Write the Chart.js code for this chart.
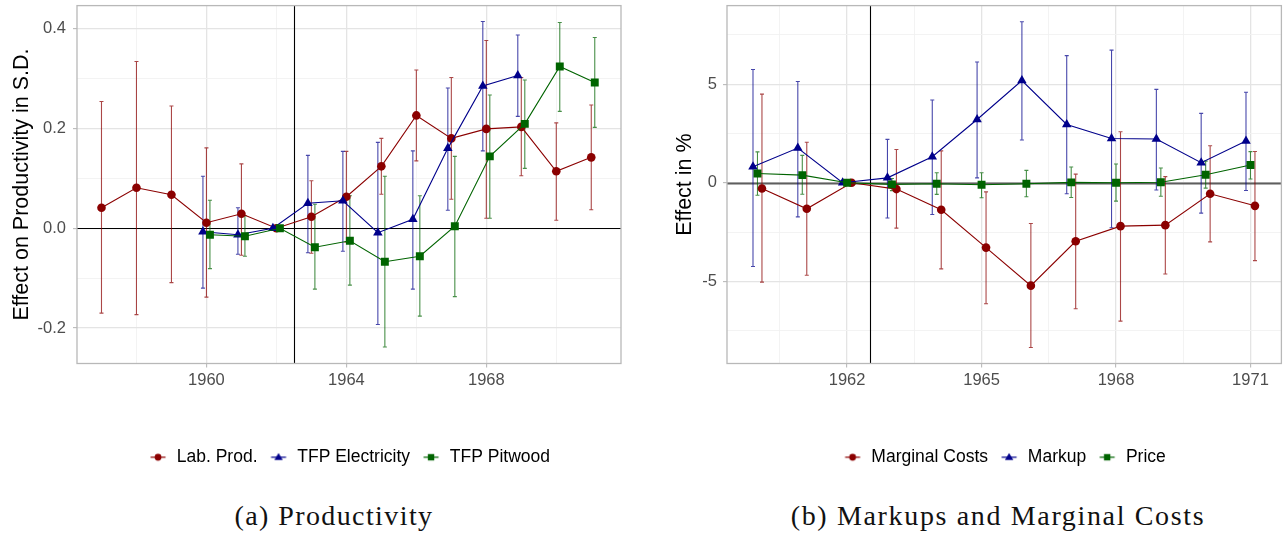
<!DOCTYPE html>
<html>
<head>
<meta charset="utf-8">
<script src="https://cdn.jsdelivr.net/npm/chart.js@4.4.0/dist/chart.umd.min.js"></script>
<style>
  html, body { margin: 0; padding: 0; background: #fff; }
  body { width: 1287px; height: 535px; position: relative; overflow: hidden; }
  .panel { position: absolute; top: 0; }
  #wrapA { left: 0; }
  #wrapB { left: 643px; }
  .caption {
    position: absolute; top: 502px; line-height: 28px;
    font-family: "Liberation Serif", serif; font-size: 28px; letter-spacing: 1.4px;
    color: #111; white-space: nowrap; transform: translateX(-50%);
  }
</style>
</head>
<body>
<div class="panel" id="wrapA"><canvas id="chartA" width="640" height="490"></canvas></div>
<div class="panel" id="wrapB"><canvas id="chartB" width="644" height="490"></canvas></div>
<div class="caption" style="left:334px">(a) Productivity</div>
<div class="caption" style="left:998px; letter-spacing:1.65px">(b) Markups and Marginal Costs</div>
<script>
// ---- (a) Productivity: estimates and 95% bands ----
const yearsLab = [1957, 1958, 1959, 1960, 1961, 1962, 1963, 1964, 1965, 1966, 1967, 1968, 1969, 1970, 1971];
const labProd   = [0.041, 0.081, 0.067, 0.011, 0.029, 0, 0.023, 0.063, 0.124, 0.226, 0.180, 0.199, 0.203, 0.114, 0.142];
const labProdLo = [-0.170, -0.173, -0.109, -0.138, -0.054, 0, -0.050, -0.028, 0.068, 0.135, 0.058, 0.020, 0.105, 0.016, 0.037];
const labProdHi = [0.254, 0.334, 0.245, 0.161, 0.129, 0, 0.095, 0.154, 0.180, 0.317, 0.302, 0.376, 0.302, 0.211, 0.247];

const yearsElec = [1960, 1961, 1962, 1963, 1964, 1965, 1966, 1967, 1968, 1969];
const tfpElec   = [-0.007, -0.013, 0, 0.050, 0.055, -0.009, 0.018, 0.160, 0.285, 0.306];
const tfpElecLo = [-0.120, -0.052, 0, -0.049, -0.046, -0.193, -0.122, 0.036, 0.155, 0.224];
const tfpElecHi = [0.104, 0.041, 0, 0.146, 0.154, 0.172, 0.155, 0.281, 0.414, 0.387];

const yearsPit = [1960, 1961, 1962, 1963, 1964, 1965, 1966, 1967, 1968, 1969, 1970, 1971];
const tfpPit   = [-0.013, -0.016, 0, -0.038, -0.025, -0.067, -0.056, 0.004, 0.144, 0.209, 0.324, 0.292];
const tfpPitLo = [-0.081, -0.056, 0, -0.122, -0.114, -0.238, -0.176, -0.137, 0.020, 0.120, 0.234, 0.202];
const tfpPitHi = [0.056, 0.025, 0, 0.048, 0.065, 0.104, 0.065, 0.144, 0.267, 0.297, 0.412, 0.382];

const xMajorA = [1960, 1964, 1968];
const xMinorA = [1958, 1962, 1966, 1970];
const yMajorA = [-0.2, 0, 0.2, 0.4];
const yLabelsA = ['-0.2', '0.0', '0.2', '0.4'];
const yMinorA = [-0.1, 0.1, 0.3];

// ---- (b) Markups and marginal costs (in %) ----
const yearsB = [1960, 1961, 1962, 1963, 1964, 1965, 1966, 1967, 1968, 1969, 1970, 1971];
const margCost   = [-0.29, -1.32, 0, -0.32, -1.37, -3.29, -5.22, -2.97, -2.20, -2.15, -0.56, -1.17];
const margCostLo = [-5.04, -4.69, 0, -2.30, -4.37, -6.14, -8.36, -6.39, -7.02, -4.63, -3.00, -3.95];
const margCostHi = [4.50, 2.06, 0, 1.69, 1.62, -0.46, -2.07, 0.44, 2.59, 0.31, 1.88, 1.59];
const markup   = [0.81, 1.76, 0, 0.25, 1.32, 3.21, 5.19, 2.96, 2.25, 2.22, 1.02, 2.12];
const markupLo = [-4.25, -1.73, 0, -1.79, -1.61, 0.25, 2.17, -0.56, -2.28, -0.37, -1.54, -0.39];
const markupHi = [5.75, 5.14, 0, 2.20, 4.20, 6.13, 8.17, 6.45, 6.73, 4.74, 3.52, 4.59];
const price   = [0.47, 0.39, 0, -0.08, -0.05, -0.10, -0.05, 0.02, 0.00, 0.03, 0.41, 0.90];
const priceLo = [-0.63, -0.58, 0, -0.40, -0.59, -0.76, -0.71, -0.75, -0.93, -0.68, -0.27, 0.19];
const priceHi = [1.57, 1.39, 0, 0.22, 0.51, 0.51, 0.63, 0.80, 0.95, 0.75, 1.10, 1.58];

const xMajorB = [1962, 1965, 1968, 1971];
const xMinorB = [1960.5, 1963.5, 1966.5, 1969.5];
const yMajorB = [-5, 0, 5];
const yLabelsB = ['-5', '0', '5'];
const yMinorB = [-7.5, -2.5, 2.5, 7.5];

const treatYear = 1962.5;

const RED = '#8b0000', BLUE = '#00008b', GREEN = '#006400';
const SANS = '"Liberation Sans", Arial, sans-serif';

function toPoints(years, vals, shift) {
  return years.map((yr, i) => ({ x: yr + shift, y: vals[i] }));
}

function legendMarker(color, style) {
  const c = document.createElement('canvas');
  c.width = 20; c.height = 12;
  const g = c.getContext('2d');
  g.strokeStyle = color; g.fillStyle = color; g.lineWidth = 1.2;
  g.beginPath(); g.moveTo(2.5, 6); g.lineTo(17.5, 6); g.stroke();
  g.beginPath();
  if (style === 'circle') g.arc(10, 6, 3.4, 0, Math.PI * 2);
  else if (style === 'triangle') { g.moveTo(10, 1.8); g.lineTo(14.2, 8.8); g.lineTo(5.8, 8.8); g.closePath(); }
  else g.rect(6.8, 2.8, 6.4, 6.4);
  g.fill();
  return c;
}

function series(label, color, style, radius, pts, lo, hi, order) {
  return {
    label: label, data: pts, errLo: lo, errHi: hi, order: order,
    borderColor: color, backgroundColor: color, borderWidth: 1.1,
    pointStyle: style, pointRadius: radius, pointBorderWidth: 0,
    pointBackgroundColor: color, tension: 0,
    legendIcon: legendMarker(color, style)
  };
}

// error bars + reference lines + panel border
const panelDecor = {
  id: 'panelDecor',
  beforeDatasetsDraw(chart, args, opts) {
    const { ctx, chartArea: a } = chart;
    const x = chart.scales.x, y = chart.scales.y;
    ctx.save();
    ctx.beginPath(); ctx.rect(a.left, a.top, a.right - a.left, a.bottom - a.top); ctx.clip();
    // horizontal zero line
    const y0 = Math.round(y.getPixelForValue(0)) + 0.5;
    ctx.strokeStyle = opts.zeroColor; ctx.lineWidth = opts.zeroWidth;
    ctx.beginPath(); ctx.moveTo(a.left, y0); ctx.lineTo(a.right, y0); ctx.stroke();
    // treatment line
    const xv = Math.round(x.getPixelForValue(treatYear)) + 0.5;
    ctx.strokeStyle = '#000'; ctx.lineWidth = 1.1;
    ctx.beginPath(); ctx.moveTo(xv, a.top); ctx.lineTo(xv, a.bottom); ctx.stroke();
    // error bars, drawn in legend order
    const cap = 2;
    chart.data.datasets.forEach((ds) => {
      ctx.strokeStyle = ds.borderColor; ctx.globalAlpha = 0.72; ctx.lineWidth = 1.1;
      ds.data.forEach((p, j) => {
        const px = x.getPixelForValue(p.x);
        const y1 = y.getPixelForValue(ds.errLo[j]), y2 = y.getPixelForValue(ds.errHi[j]);
        ctx.beginPath();
        ctx.moveTo(px, y1); ctx.lineTo(px, y2);
        ctx.moveTo(px - cap, y1); ctx.lineTo(px + cap, y1);
        ctx.moveTo(px - cap, y2); ctx.lineTo(px + cap, y2);
        ctx.stroke();
      });
    });
    ctx.restore();
  },
  afterDraw(chart) {
    const { ctx, chartArea: a } = chart;
    ctx.save();
    ctx.strokeStyle = '#b8b8b8'; ctx.lineWidth = 1.3;
    ctx.strokeRect(a.left, a.top, a.right - a.left, a.bottom - a.top);
    ctx.restore();
  }
};

function noPad(ax) {
  ax.paddingTop = 0; ax.paddingBottom = 0; ax.paddingLeft = 0; ax.paddingRight = 0;
}

function makePanel(id, cfg) {
  const gridOpts = (major) => ({
    color: c => major.includes(c.tick.value) ? '#e4e4e4' : '#f2f2f2',
    lineWidth: c => major.includes(c.tick.value) ? 1.3 : 0.9,
    tickColor: c => major.includes(c.tick.value) ? '#b3b3b3' : 'rgba(0,0,0,0)',
    tickLength: 4, tickWidth: 1
  });
  return new Chart(document.getElementById(id), {
    type: 'line',
    data: { datasets: cfg.datasets },
    plugins: [panelDecor],
    options: {
      responsive: false, animation: false, devicePixelRatio: 1,
      layout: { padding: { left: cfg.padLeft, right: cfg.padRight, top: 5, bottom: 14 } },
      scales: {
        x: {
          type: 'linear', min: cfg.xMin, max: cfg.xMax,
          afterBuildTicks: ax => { ax.ticks = cfg.xMajor.concat(cfg.xMinor).sort((a, b) => a - b).map(v => ({ value: v })); },
          afterFit: ax => { ax.height = 74; noPad(ax); },
          ticks: {
            autoSkip: false, maxRotation: 0, padding: 3, color: '#4d4d4d',
            font: { family: SANS, size: 16.5 },
            callback: v => cfg.xMajor.includes(v) ? String(v) : ''
          },
          grid: gridOpts(cfg.xMajor),
          border: { display: false }
        },
        y: {
          min: cfg.yMin, max: cfg.yMax,
          afterBuildTicks: ax => { ax.ticks = cfg.yMajor.concat(cfg.yMinor).sort((a, b) => a - b).map(v => ({ value: v })); },
          afterFit: ax => { ax.width = cfg.yWidth; noPad(ax); },
          ticks: {
            autoSkip: false, padding: cfg.yPad, color: '#4d4d4d',
            font: { family: SANS, size: 16.5 },
            callback: v => { const k = cfg.yMajor.indexOf(v); return k >= 0 ? cfg.yLabels[k] : ''; }
          },
          title: {
            display: true, text: cfg.yTitle, color: '#000',
            font: { family: SANS, size: 21.5 }, padding: { top: 4, bottom: 4 }
          },
          grid: gridOpts(cfg.yMajor),
          border: { display: false }
        }
      },
      plugins: {
        tooltip: { enabled: false },
        panelDecor: { zeroColor: cfg.zeroColor, zeroWidth: cfg.zeroWidth },
        legend: {
          position: 'bottom', fullSize: false,
          labels: {
            usePointStyle: true, pointStyleWidth: 20, padding: 11,
            color: '#000', font: { family: SANS, size: 17.5 },
            generateLabels: chart => {
              const items = Chart.defaults.plugins.legend.labels.generateLabels(chart);
              items.sort((a, b) => a.datasetIndex - b.datasetIndex);
              items.forEach(it => { it.pointStyle = chart.data.datasets[it.datasetIndex].legendIcon; });
              return items;
            }
          }
        }
      }
    }
  });
}

makePanel('chartA', {
  datasets: [
    series('Lab. Prod.', RED, 'circle', 4.3, toPoints(yearsLab, labProd, 0), labProdLo, labProdHi, 3),
    series('TFP Electricity', BLUE, 'triangle', 5.5, toPoints(yearsElec, tfpElec, -0.1), tfpElecLo, tfpElecHi, 2),
    series('TFP Pitwood', GREEN, 'rect', 5.6, toPoints(yearsPit, tfpPit, 0.1), tfpPitLo, tfpPitHi, 1)
  ],
  xMin: 1956.3, xMax: 1971.85, yMin: -0.271, yMax: 0.446,
  xMajor: xMajorA, xMinor: xMinorA, yMajor: yMajorA, yMinor: yMinorA, yLabels: yLabelsA,
  padLeft: 5, padRight: 19, yWidth: 72, yPad: 7,
  yTitle: 'Effect on Productivity in S.D.', zeroColor: '#000', zeroWidth: 1.2
});

makePanel('chartB', {
  datasets: [
    series('Marginal Costs', RED, 'circle', 4.3, toPoints(yearsB, margCost, 0.1), margCostLo, margCostHi, 3),
    series('Markup', BLUE, 'triangle', 5.5, toPoints(yearsB, markup, -0.1), markupLo, markupHi, 2),
    series('Price', GREEN, 'rect', 5.6, toPoints(yearsB, price, 0), priceLo, priceHi, 1)
  ],
  xMin: 1959.32, xMax: 1971.69, yMin: -9.17, yMax: 8.99,
  xMajor: xMajorB, xMinor: xMinorB, yMajor: yMajorB, yMinor: yMinorB, yLabels: yLabelsB,
  padLeft: 25, padRight: 2, yWidth: 59, yPad: 6,
  yTitle: 'Effect in %', zeroColor: '#5e5e5e', zeroWidth: 2.2
});
</script>
</body>
</html>
